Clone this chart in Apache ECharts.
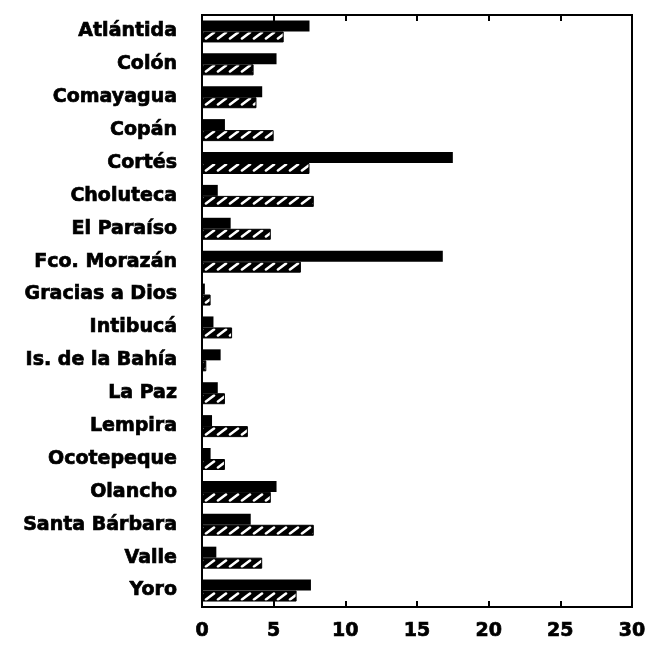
<!DOCTYPE html>
<html>
<head>
<meta charset="utf-8">
<script src="https://cdn.jsdelivr.net/npm/echarts@6/dist/echarts.min.js"></script>
<style>
	html,body{margin:0;padding:0;background:#fff;}
	#main{width:654px;height:645px;}
</style>
</head>
<body>
<div id="main"></div>
<script>
var departamentos = ["Atlántida","Colón","Comayagua","Copán","Cortés","Choluteca","El Paraíso","Fco. Morazán","Gracias a Dios","Intibucá","Is. de la Bahía","La Paz","Lempira","Ocotepeque","Olancho","Santa Bárbara","Valle","Yoro"];
var serieSolida = [7.5, 5.2, 4.2, 1.6, 17.5, 1.1, 2.0, 16.8, 0.2, 0.8, 1.3, 1.1, 0.7, 0.6, 5.2, 3.4, 1.0, 7.6];
var serieRayada = [5.7, 3.6, 3.8, 5.0, 7.5, 7.8, 4.8, 6.9, 0.6, 2.1, 0.3, 1.6, 3.2, 1.6, 4.8, 7.8, 4.2, 6.6];
var ticksX = [0, 5, 10, 15, 20, 25, 30];

// patron rayado: fondo negro con trazos blancos inclinados
var tile = document.createElement("canvas");
tile.width = 12;
tile.height = 11;
var ctx = tile.getContext("2d");
ctx.fillStyle = "#000";
ctx.fillRect(0, 0, 12, 11);
ctx.strokeStyle = "#fff";
ctx.lineWidth = 2.6;
ctx.lineCap = "round";
[0, 11].forEach(function(dy){
	ctx.beginPath();
	ctx.moveTo(2, 5.5 + dy);
	ctx.lineTo(10, -0.5 + dy);
	ctx.stroke();
});

var myChart = echarts.init(document.getElementById("main"));
var fuente = "DejaVu Sans";

var option = {
	animation: false,
	grid: {
		left: 202,
		right: 22,
		top: 15,
		bottom: 38,
		show: true,
		borderColor: "#000",
		borderWidth: 2
	},
	xAxis: [{
		type: "value",
		min: ticksX[0],
		max: ticksX[ticksX.length - 1],
		interval: 5,
		axisLine: {show: true, lineStyle: {color: "#000", width: 2}},
		axisTick: {show: true, inside: true, length: 6, lineStyle: {color: "#000", width: 2}},
		splitLine: {show: false},
		axisLabel: {
			margin: 15,
			color: "#000",
			fontFamily: fuente,
			fontWeight: "bold",
			fontSize: 19,
			textBorderColor: "#000",
			textBorderWidth: 0.7,
			formatter: function(v){ return ticksX.indexOf(v) >= 0 ? String(v) : ""; }
		}
	}, {
		type: "value",
		position: "top",
		min: ticksX[0],
		max: ticksX[ticksX.length - 1],
		interval: 5,
		axisLine: {show: true, lineStyle: {color: "#000", width: 2}},
		axisTick: {show: true, inside: true, length: 6, lineStyle: {color: "#000", width: 2}},
		splitLine: {show: false},
		axisLabel: {show: false}
	}],
	yAxis: {
		type: "category",
		inverse: true,
		data: departamentos,
		axisLine: {show: true, lineStyle: {color: "#000", width: 2}},
		axisTick: {show: false},
		axisLabel: {
			margin: 25,
			color: "#000",
			fontFamily: fuente,
			fontWeight: "bold",
			fontSize: 19,
			textBorderColor: "#000",
			textBorderWidth: 0.7
		}
	},
	series: [{
		name: "solida",
		type: "bar",
		barWidth: 11,
		barGap: "0%",
		data: serieSolida,
		itemStyle: {color: "#000"}
	}, {
		name: "rayada",
		type: "bar",
		barWidth: 11,
		barGap: "0%",
		data: serieRayada,
		itemStyle: {
			color: {image: tile, repeat: "repeat"},
			borderColor: "#000",
			borderWidth: 1
		}
	}]
};

myChart.setOption(option);
</script>
</body>
</html>
